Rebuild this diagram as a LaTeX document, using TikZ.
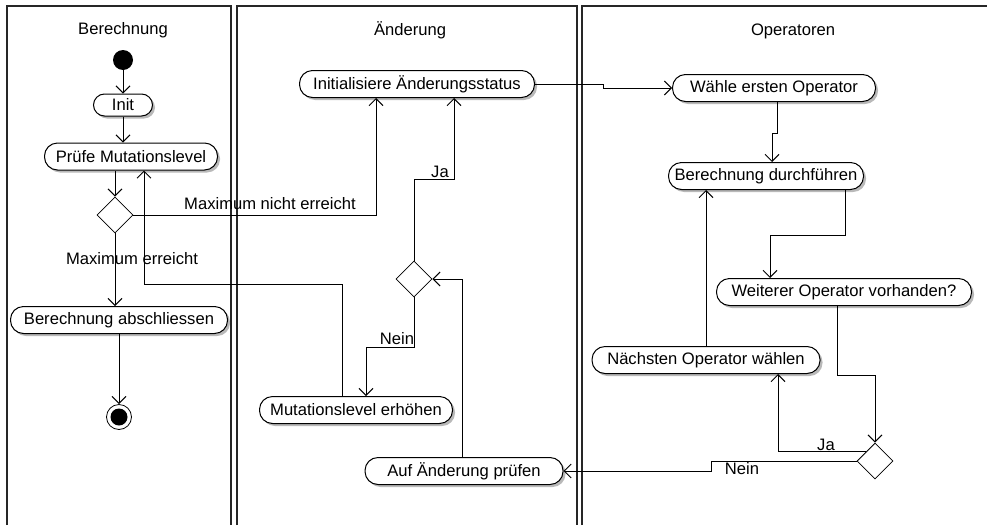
\documentclass[tikz,border=0pt]{standalone}
\usepackage{fontspec}
\setmainfont{Liberation Sans}
\usetikzlibrary{arrows.meta,shapes.geometric,shadows}

\begin{document}
\begin{tikzpicture}[x=1pt,y=-1pt,
    font=\fontsize{16.6}{19}\selectfont,
    lane/.style={line width=1.2pt, draw=black!85},
    activity/.style={draw, fill=white, line width=1pt, rounded corners=13pt,
        minimum height=27pt, inner sep=0pt,
        drop shadow={shadow xshift=2.5pt, shadow yshift=-2.5pt, fill=black!55}},
    decision/.style={draw, fill=white, diamond, line width=0.8pt, minimum size=36pt, inner sep=0pt},
    flow/.style={line width=1pt, -{Straight Barb[length=7pt,width=14pt]}}]

    \useasboundingbox (0,0) rectangle (987,525);

    % Swimlanes
    \draw[lane] (7,525) -- (7,6) -- (231,6) -- (231,525);
    \draw[lane] (237,525) -- (237,6) -- (577,6) -- (577,525);
    \draw[lane] (582,525) -- (582,6) -- (987,6);
    \node (tBerechnung) at (123,30) {Berechnung};
    \node (tAenderung) at (410,30) {Änderung};
    \node (tOperatoren) at (793,31) {Operatoren};

    % Berechnung
    \node[circle, fill=black, minimum size=20pt, inner sep=0pt] (start) at (123,60) {};
    \node[activity, minimum width=59pt, minimum height=22pt, rounded corners=11pt] (init) at (123,105) {Init};
    \node[activity, minimum width=173pt] (pruefe) at (131,156.5) {Prüfe Mutationslevel};
    \node[decision] (d1) at (115,215) {};
    \node[activity, minimum width=217pt] (abschl) at (119,320) {Berechnung abschliessen};
    \node[circle, draw, fill=white, line width=0.8pt, minimum size=25pt, inner sep=0pt] (stop) at (119,417) {};
    \fill (stop) circle (8.5pt);

    % Aenderung
    \node[activity, minimum width=235pt] (initstatus) at (417,84) {Initialisiere Änderungsstatus};
    \node[decision] (d2) at (414,279) {};
    \node[activity, minimum width=193pt] (mutlevel) at (356,410) {Mutationslevel erhöhen};
    \node[activity, minimum width=198pt] (aufpruef) at (464,471) {Auf Änderung prüfen};

    % Operatoren
    \node[activity, minimum width=203pt] (waehle) at (774,88) {Wähle ersten Operator};
    \node[activity, minimum width=195pt] (berdurch) at (766,176) {Berechnung durchführen};
    \node[activity, minimum width=255pt] (weiterer) at (844,292) {Weiterer Operator vorhanden?};
    \node[activity, minimum width=228pt] (naechst) at (706,360) {Nächsten Operator wählen};
    \node[decision] (d3) at (875,461) {};

    % Flows
    \coordinate (retCorner) at (144,284);
    \draw[flow] (start) -- (init);
    \draw[flow] (init.south) -- (init.south |- pruefe.north);
    \draw[flow] (pruefe.south -| d1) -- (d1.north);
    \draw[flow] (d1.east) -| ([xshift=-41pt]initstatus.south);
    \draw[flow] (d1.south) -- (d1.south |- abschl.north);
    \draw[flow] (abschl.south) -- (stop.north);
    \draw[flow] ([xshift=-14pt]mutlevel.north) |- (retCorner) -- (retCorner |- pruefe.south);
    \draw[flow] (initstatus.east) -- ++(68,0) |- (waehle.west);
    \draw[flow] ([xshift=3pt]waehle.south) -- ++(0,31) -| ([xshift=6pt]berdurch.north);
    \draw[flow] ([xshift=79pt]berdurch.south) -- ++(0,45) -| ([xshift=-74pt]weiterer.north);
    \draw[flow] ([xshift=-7pt]weiterer.south) |- ([yshift=67pt]d3.north) -- (d3.north);
    \draw[flow] (d3.north west) -| ([xshift=72pt]naechst.south);
    \draw[flow] (d3.west) -- ++(-145,0) |- (aufpruef.east);
    \draw[flow] (naechst.north) -- (naechst.north |- berdurch.south);
    \draw[flow] ([xshift=-2pt]aufpruef.north) |- (d2.east);
    \draw[flow] (d2.north) -- ++(0,-81) -| ([xshift=37pt]initstatus.south);
    \draw[flow] (d2.south) -- ++(0,50) -| ([xshift=10pt]mutlevel.north);

    % Guard labels
    \node (lMaxNicht) at (270,204) {Maximum nicht erreicht};
    \node (lMaxErr) at (132,259) {Maximum erreicht};
    \node (lJaAend) at (440,172) {Ja};
    \node (lNeinAend) at (397,339) {Nein};
    \node (lJaOp) at (826,445) {Ja};
    \node (lNeinOp) at (742,469) {Nein};

\end{tikzpicture}
\end{document}
